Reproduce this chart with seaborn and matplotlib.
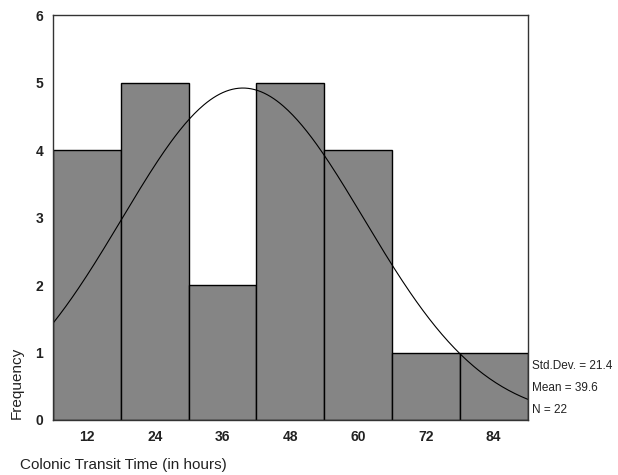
import numpy as np
import pandas as pd
import matplotlib
matplotlib.use("Agg")
import matplotlib.pyplot as plt
import seaborn as sns

bin_centers = [12, 24, 36, 48, 60, 72, 84]
counts = [4, 5, 2, 5, 4, 1, 1]
bin_edges = [6, 18, 30, 42, 54, 66, 78, 90]
mean_val = 39.6
std_val = 21.4
n_val = 22
yticks = [0, 1, 2, 3, 4, 5, 6]

sns.set_style("white")
plt.rcParams['font.family'] = ['Liberation Sans', 'DejaVu Sans']

fig = plt.figure(figsize=(6.18, 4.75), dpi=100)
ax = fig.add_axes([0.0858, 0.1158, 0.768, 0.852])

df = pd.DataFrame({"time": bin_centers, "count": counts})
sns.histplot(data=df, x="time", weights="count", bins=bin_edges, ax=ax,
             color="#858585", edgecolor="black", linewidth=1.0, alpha=1.0)

binw = bin_edges[1] - bin_edges[0]
xs = np.linspace(bin_edges[0], bin_edges[-1], 300)
ys = n_val * binw / (std_val * np.sqrt(2 * np.pi)) * np.exp(-0.5 * ((xs - mean_val) / std_val) ** 2)
sns.lineplot(x=xs, y=ys, ax=ax, color="black", linewidth=0.8)

ax.set_xlim(bin_edges[0], bin_edges[-1])
ax.set_ylim(0, 6)
ax.set_xticks(bin_centers)
ax.set_yticks(yticks)
ax.tick_params(axis="both", direction="out", length=3, width=2, labelsize=10, colors="black", pad=4)
for lab in ax.get_xticklabels() + ax.get_yticklabels():
    lab.set_fontweight("bold")
    lab.set_color("#222222")
for s in ax.spines.values():
    s.set_color("#333333")
    s.set_linewidth(1.0)

ax.set_xlabel("")
ax.set_ylabel("")
fig.text(0.016, 0.118, "Frequency", rotation=90, fontsize=11, ha="left", va="bottom", color="#222222")
fig.text(0.032, 0.006, "Colonic Transit Time (in hours)", fontsize=11, ha="left", va="bottom", color="#222222")

fig.text(0.861, 0.229, f"Std.Dev. = {std_val}", fontsize=8.5, ha="left", va="center", color="#222222")
fig.text(0.861, 0.183, f"Mean = {mean_val}", fontsize=8.5, ha="left", va="center", color="#222222")
fig.text(0.861, 0.137, f"N = {n_val}", fontsize=8.5, ha="left", va="center", color="#222222")

fig.savefig("out.png", dpi=100)
